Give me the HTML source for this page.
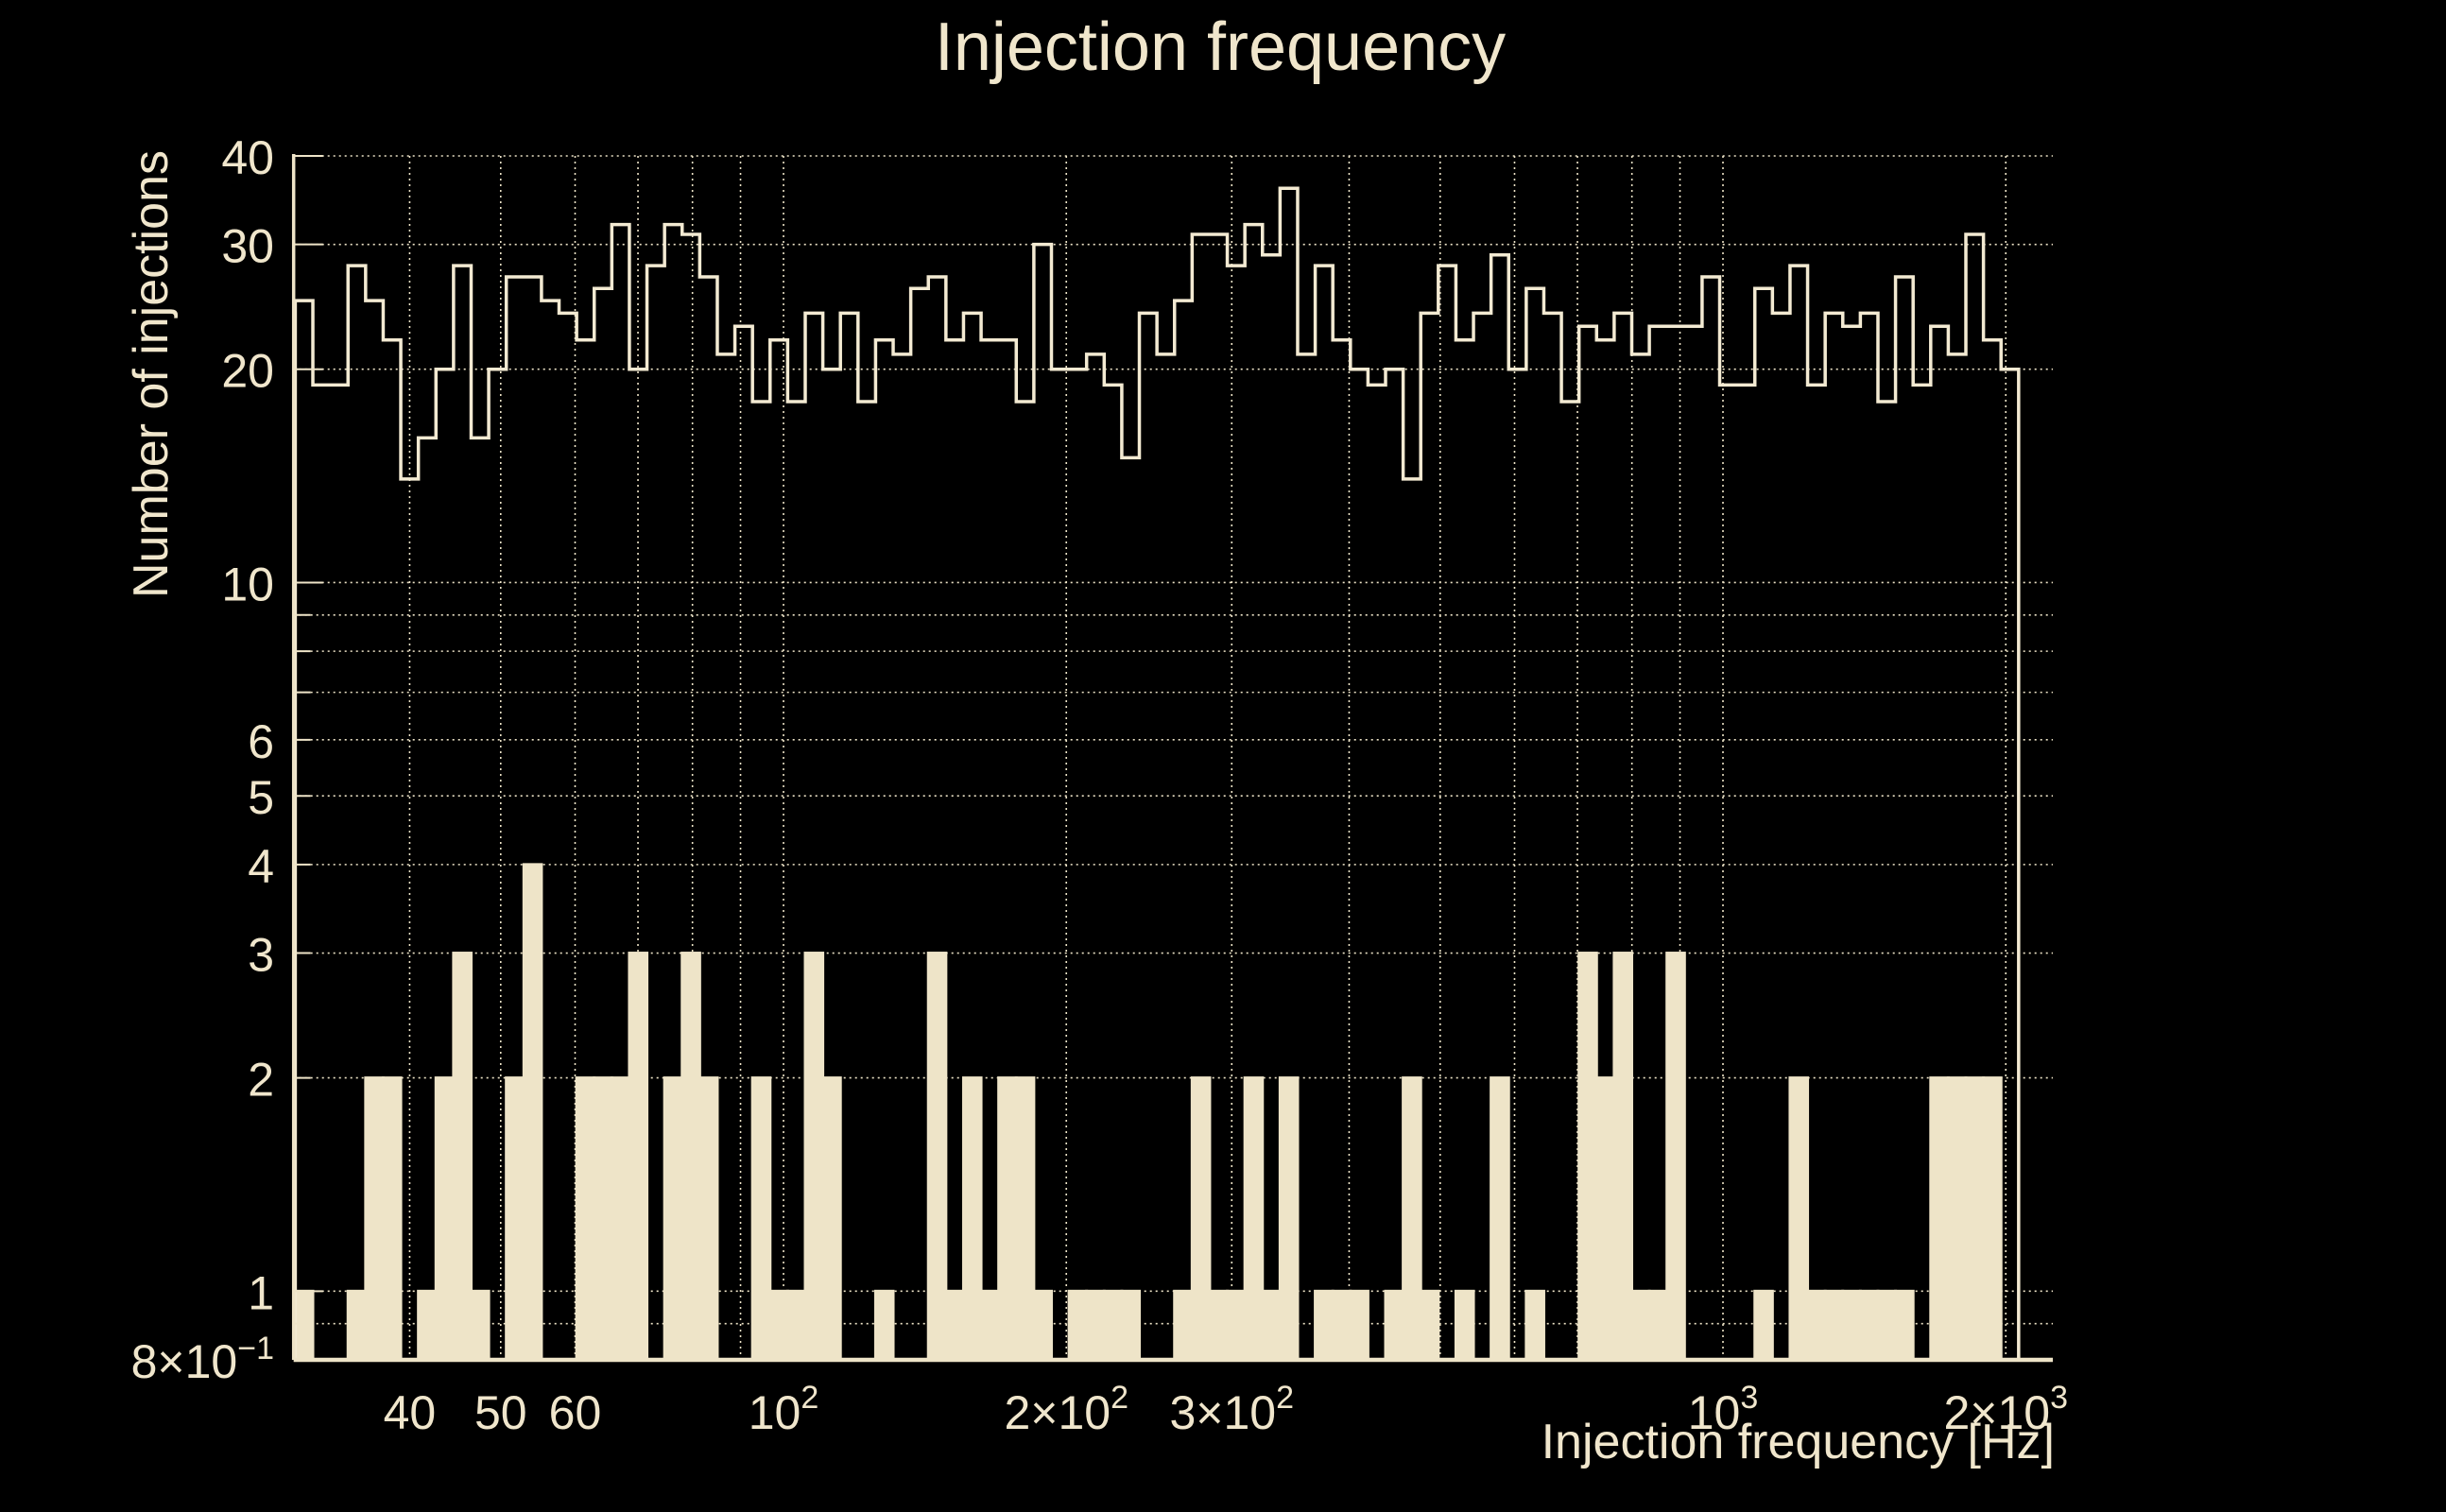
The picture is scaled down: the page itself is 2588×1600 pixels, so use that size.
<!DOCTYPE html>
<html>
<head>
<meta charset="utf-8">
<style>
  html,body{margin:0;padding:0;background:#000;}
  svg{display:block;}
  text{font-family:"Liberation Sans", sans-serif; fill:#F0E6CC;}
</style>
</head>
<body>
<svg id="chart" xmlns="http://www.w3.org/2000/svg" width="2588" height="1600" viewBox="0 0 2588 1600">
  <rect x="0" y="0" width="2588" height="1600" fill="#000"/>
  <g id="grid"></g>
  <g id="bars"></g>
  <g id="line"></g>
  <g id="axes"></g>
  <text x="1291" y="74" font-size="72" text-anchor="middle">Injection frequency</text>
  <text transform="translate(177,396) rotate(-90)" font-size="52" text-anchor="middle">Number of injections</text>
  <text x="2174" y="1543" font-size="52" text-anchor="end">Injection frequency [Hz]</text>
</svg>
<script>
// ---- data ----
const binLow = 30.22;      // Hz, first bin edge
const binHigh = 2064;      // Hz, last bin edge
const upperCounts = [25,19,19,28,25,22,14,16,20,28,16,20,27,27,25,24,22,26,32,20,28,32,31,27,21,
  23,18,22,18,24,20,24,18,22,21,26,27,22,24,22,22,18,30,20,20,21,19,15,24,
  21,25,31,31,28,32,29,36,21,28,22,20,19,20,14,24,28,22,24,29,20,26,24,18,23,
  22,24,21,23,23,23,27,19,19,26,24,28,19,24,23,24,18,27,19,23,21,31,22,20];
const lowerCounts = [1,0,0,1,2,2,0,1,2,3,1,0,2,4,0,0,2,2,2,3,0,2,3,2,0,0,2,1,1,3,2,0,0,1,0,0,3,1,2,1,2,2,1,0,1,1,1,1,
  0,0,1,2,1,1,2,1,2,0,1,1,1,0,1,2,1,0,1,0,2,0,1,0,0,3,2,3,1,1,3,0,0,0,0,1,0,2,1,1,1,1,1,1,0,2,2,2,2,0];
const yGridValues = [0.9,1,2,3,4,5,6,7,8,9,10,20,30,40];
const yTickValues = [40,30,20,10,6,5,4,3,2,1,0.8];
const yTickLabels = ["40","30","20","10","6","5","4","3","2","1","8\u00D710<sup>\u22121</sup>"];
const xGridValues = [40,50,60,70,80,90,100,200,300,400,500,600,700,800,900,1000,2000];
const xTickValues = [40,50,60,100,200,300,1000,2000];
const xTickMant = ["40","50","60","10","2\u00D710","3\u00D710","10","2\u00D710"];
const xTickExp = ["","","","2","2","2","3","3"];

// ---- scales ----
const yMin = 0.8, yMax = 40;
const plotTop = 165, plotBottom = 1439, plotLeft = 310.7, plotRight = 2172;
function xs(f){ return 829 + 994*Math.log10(f/100); }
function ys(v){ return plotTop + (plotBottom-plotTop)*Math.log10(yMax/v)/Math.log10(yMax/yMin); }
const NS = "http://www.w3.org/2000/svg";
const COL = "#EEE4C8";
function mk(tag, attrs, parent){
  const e = document.createElementNS(NS, tag);
  for (const k in attrs) e.setAttribute(k, attrs[k]);
  parent.appendChild(e); return e;
}
const nBins = upperCounts.length;
function edge(i){ return binLow*Math.pow(binHigh/binLow, i/nBins); }

// grid
const grid = document.getElementById('grid');
yGridValues.forEach(v=>{
  const l = mk('line',{x1:plotLeft,x2:plotRight,y1:ys(v),y2:ys(v),stroke:COL,'stroke-width':1.6,'stroke-dasharray':'2 4'},grid);
  
  
});
xGridValues.forEach(f=>{
  const l = mk('line',{x1:xs(f),x2:xs(f),y1:plotTop,y2:plotBottom,stroke:COL,'stroke-width':1.6,'stroke-dasharray':'2 4'},grid);
  
  
});

// lower bars
const bars = document.getElementById('bars');
lowerCounts.forEach((c,i)=>{
  if (c<=0) return;
  const x0 = xs(edge(i)), x1 = xs(edge(i+1));
  const r = mk('rect',{x:x0,y:ys(c),width:x1-x0,height:plotBottom-ys(c),fill:COL,stroke:COL,'stroke-width':3},bars);
  
  
});

// upper step line
const lineG = document.getElementById('line');
let d = 'M'+xs(edge(0))+','+plotBottom;
upperCounts.forEach((c,i)=>{
  d += ' V'+ys(c)+' H'+xs(edge(i+1));
});
d += ' V'+plotBottom;
const p = mk('path',{d:d,fill:'none',stroke:'#F3EAD2','stroke-width':3.5},lineG);



// axes
const axes = document.getElementById('axes');
const ya = mk('line',{x1:plotLeft,x2:plotLeft,y1:plotTop-2,y2:plotBottom,stroke:COL,'stroke-width':3.5},axes);


const xa = mk('line',{x1:plotLeft,x2:plotRight,y1:plotBottom,y2:plotBottom,stroke:COL,'stroke-width':4.5},axes);


yGridValues.forEach(v=>{
  const major = [1,10].indexOf(v)>=0 || v>=20;
  const t = mk('line',{x1:plotLeft,x2:plotLeft+(major?31:18),y1:ys(v),y2:ys(v),stroke:COL,'stroke-width':2},axes);
  
  
});
yTickValues.forEach((v,i)=>{
  const t = mk('text',{x:290,y:ys(v)+19,'font-size':50,'text-anchor':'end'},axes);
  if (yTickLabels[i].indexOf('<sup>')>=0){
    t.textContent = '8\u00D710';
    const s = mk('tspan',{'font-size':34,dy:-20},t);
    s.textContent = '\u22121';
  } else t.textContent = yTickLabels[i];
  
  
});
xTickValues.forEach((f,i)=>{
  const t = mk('text',{x:xs(f),y:1512,'font-size':50,'text-anchor':'middle'},axes);
  t.textContent = xTickMant[i];
  if (xTickExp[i]){
    const s = mk('tspan',{'font-size':34,dy:-22},t);
    s.textContent = xTickExp[i];
  }
  
  
});
</script>
</body>
</html>
